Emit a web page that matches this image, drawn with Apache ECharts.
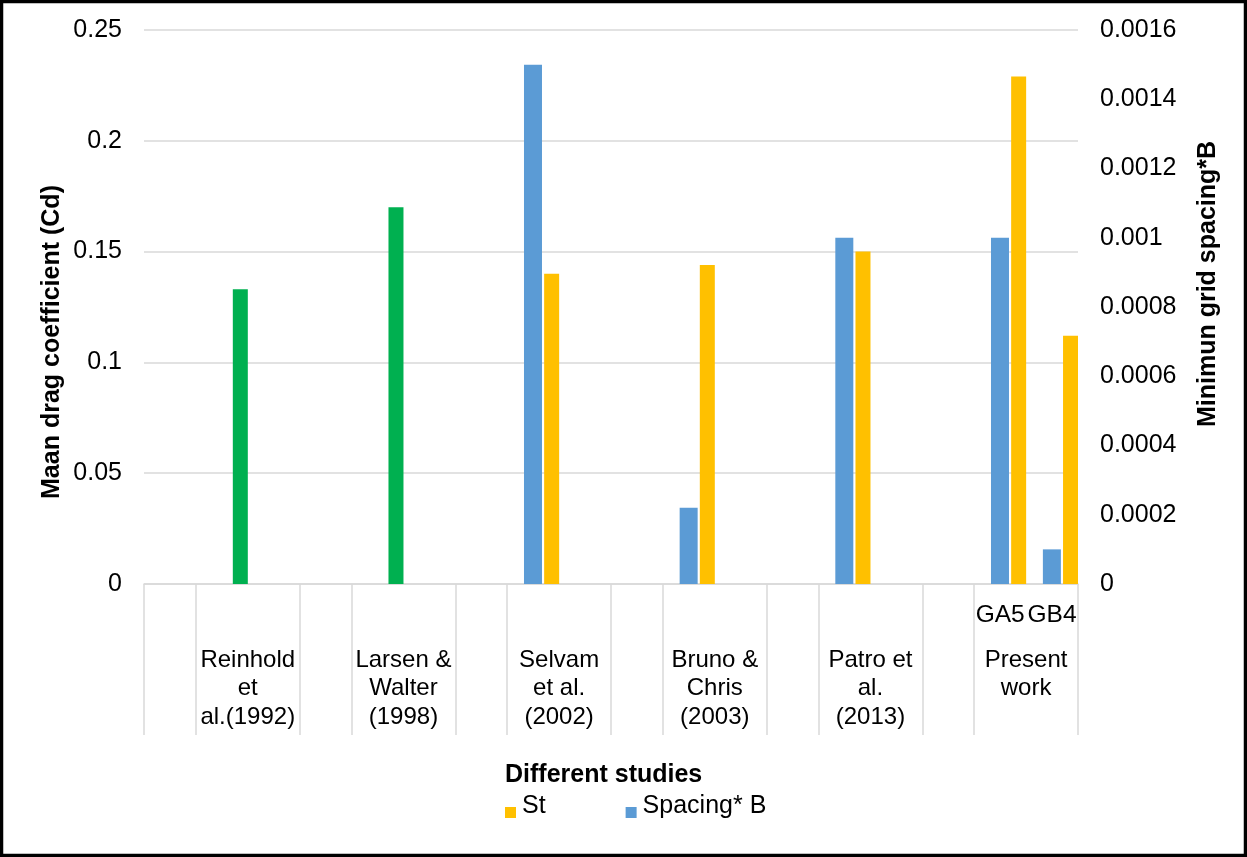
<!DOCTYPE html>
<html>
<head>
<meta charset="utf-8">
<script src="https://cdn.jsdelivr.net/npm/echarts@6/dist/echarts.min.js"></script>
<style>
html,body{margin:0;padding:0;background:#fff;}
#chart{width:1247px;height:857px;}
</style>
</head>
<body>
<div id="chart"></div>
<script>
// ---- data ----
const subCategories = ['', '', '', '', '', '', '', '', '', '', '', '', '', '', '', '', 'GA5', 'GB4'];
const studies = ['Reinhold\net\nal.(1992)', 'Larsen &\nWalter\n(1998)', 'Selvam\net al.\n(2002)', 'Bruno &\nChris\n(2003)', 'Patro et\nal.\n(2013)', 'Present\nwork'];
const cdValues      = [null, 0.133, null, null, 0.17, null, null, null, null, null, null, null, null, null, null, null, null, null];
const stValues      = [null, null, null, null, null, null, null, 0.14, null, null, 0.144, null, null, 0.15, null, null, 0.229, 0.112];
const spacingValues = [null, null, null, null, null, null, null, 0.0015, null, null, 0.00022, null, null, 0.001, null, null, 0.001, 0.0001];
const emptySlot     = subCategories.map(() => null);
const leftTicks = { min: 0, max: 0.25, interval: 0.05 };
const rightTicks = { min: 0, max: 0.0016, interval: 0.0002 };

const FONT = "'Liberation Sans', Arial, sans-serif";
const chart = echarts.init(document.getElementById('chart'));

// outer (study) labels sit at the middle of each 3-slot group's 2 named slots
function studyLabel(v) {
  const r = Math.round(v);
  if (Math.abs(v - r) > 1e-6) return '';
  if (r % 3 === 2) return studies[(r - 2) / 3] || '';
  return '';
}

chart.setOption({
  animation: false,
  backgroundColor: '#fff',
  grid: { left: 144, right: 169, top: 30, bottom: 273, containLabel: false },
  title: {
    text: 'Different studies', left: 505, top: 763, padding: 0,
    textStyle: { fontFamily: FONT, fontSize: 25, fontWeight: 'bold', color: '#000' }
  },
  legend: {
    data: ['St', 'Spacing* B'],
    left: 505, top: 794, padding: 0,
    icon: 'path://M0,0L0,0M0,13L11,13L11,24L0,24ZM0,25L0,25', itemWidth: 11, itemHeight: 25, itemGap: 80,
    textStyle: { fontFamily: FONT, fontSize: 25, color: '#000', padding: [0, 0, 0, 1] }
  },
  xAxis: [
    {
      type: 'category', data: subCategories, boundaryGap: true,
      axisLine: { show: true, lineStyle: { color: '#d9d9d9', width: 1.5 } },
      axisTick: {
        show: true, length: 151,
        interval: function (i) { return i % 3 !== 2; },
        lineStyle: { color: '#d9d9d9', width: 1.5 }
      },
      axisLabel: { interval: 0, margin: 17, fontFamily: FONT, fontSize: 24.5, color: '#000', lineHeight: 28 }
    },
    {
      type: 'value', position: 'bottom', min: 0, max: subCategories.length, interval: 1,
      axisLine: { show: false }, axisTick: { show: false }, splitLine: { show: false },
      axisLabel: { margin: 62, fontFamily: FONT, fontSize: 24, color: '#000', lineHeight: 28.5, formatter: studyLabel, showMinLabel: true, showMaxLabel: true }
    }
  ],
  yAxis: [
    {
      type: 'value', min: leftTicks.min, max: leftTicks.max, interval: leftTicks.interval,
      axisLine: { show: false }, axisTick: { show: false },
      splitLine: { show: true, lineStyle: { color: '#d9d9d9', width: 1.5 } },
      axisLabel: { margin: 22, fontFamily: FONT, fontSize: 25, color: '#000' }
    },
    {
      type: 'value', min: rightTicks.min, max: rightTicks.max, interval: rightTicks.interval,
      axisLine: { show: false }, axisTick: { show: false }, splitLine: { show: false },
      axisLabel: { margin: 22, fontFamily: FONT, fontSize: 25, color: '#000' }
    }
  ],
  graphic: [
    {
      type: 'rect', silent: true, z: 100,
      shape: { x: 1.5, y: 1.5, width: 1244, height: 854 },
      style: { fill: 'none', stroke: '#000', lineWidth: 3.5 }
    },
    {
      type: 'text', x: 52, y: 342, rotation: Math.PI / 2,
      style: { text: 'Maan drag coefficient (Cd)', fontFamily: FONT, fontSize: 25, fontWeight: 'bold', fill: '#000', align: 'center', verticalAlign: 'middle' }
    },
    {
      type: 'text', x: 1208, y: 284, rotation: Math.PI / 2,
      style: { text: 'Minimun grid spacing*B', fontFamily: FONT, fontSize: 25, fontWeight: 'bold', fill: '#000', align: 'center', verticalAlign: 'middle' }
    }
  ],
  series: [
    { name: '_', type: 'bar', data: emptySlot, barWidth: 15, barGap: '12%', barCategoryGap: 0, itemStyle: { color: 'transparent' } },
    { name: 'Spacing* B', type: 'bar', yAxisIndex: 1, data: spacingValues, barWidth: 18, barGap: '12%', itemStyle: { color: '#5b9bd5' } },
    { name: 'St', type: 'bar', yAxisIndex: 0, stack: 'cdst', data: stValues, barWidth: 15, barGap: '12%', itemStyle: { color: '#ffc000' } },
    { name: 'Cd', type: 'bar', yAxisIndex: 0, stack: 'cdst', data: cdValues, barWidth: 15, barGap: '12%', itemStyle: { color: '#00b050' } }
  ]
});
</script>
</body>
</html>
